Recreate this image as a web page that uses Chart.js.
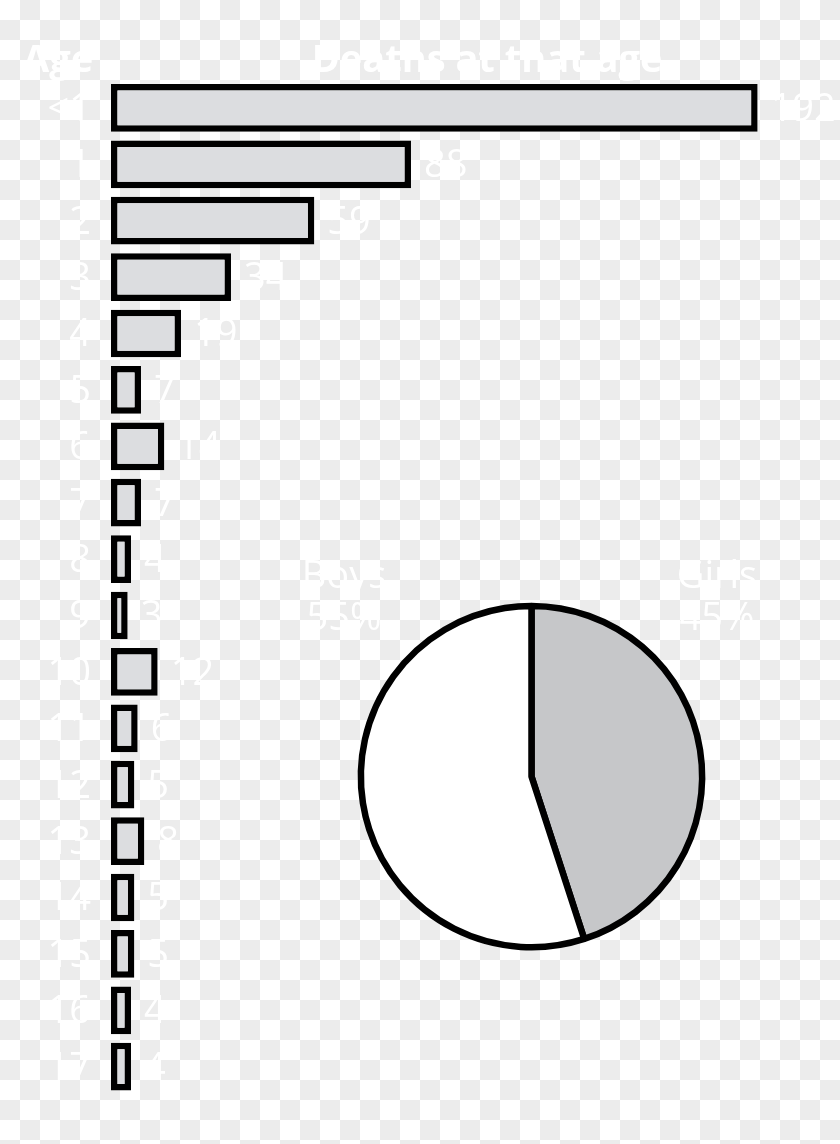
<!DOCTYPE html>
<html>
<head>
<meta charset="utf-8">
<script src="https://cdn.jsdelivr.net/npm/chart.js@4.4.0/dist/chart.umd.min.js"></script>
<style>
  html, body { margin: 0; padding: 0; }
  body {
    width: 840px;
    height: 1144px;
    overflow: hidden;
    background: repeating-conic-gradient(#ececec 0 25%, #fff 0 50%) 0 0 / 40px 40px;
  }
  .layer { position: absolute; left: 0; top: 0; width: 840px; height: 1144px; }
</style>
</head>
<body>
<div class="layer"><canvas id="bars"></canvas></div>
<div class="layer"><canvas id="pie"></canvas></div>
<script>
const ages = ['<1', '1', '2', '3', '4', '5', '6', '7', '8', '9', '10', '11', '12', '13', '14', '15', '16', '17']
const deaths = [192, 88, 59, 34, 19, 7, 14, 7, 4, 3, 12, 6, 5, 8, 5, 5, 4, 4]
const headers = ['Age', 'Deaths at that age']
const sexes = ['Girls', 'Boys']
const sexShare = [45, 55]

const numFont = '38px "Liberation Sans Narrow", "Open Sans", sans-serif'

// white labels, the way the original artwork has them
const barText = {
  id: 'barText',
  afterDatasetsDraw(chart) {
    const { ctx, scales: { x, y } } = chart
    ctx.save()
    ctx.fillStyle = '#fff'
    ctx.textBaseline = 'middle'
    ctx.font = numFont
    ages.forEach((a, i) => {
      const yy = y.getPixelForValue(i) + 2
      ctx.textAlign = 'right'
      ctx.fillText(a, 91, yy)
      ctx.textAlign = 'left'
      ctx.fillText(deaths[i], x.getPixelForValue(deaths[i]) + 13, yy)
    })
    ctx.font = 'bold 38px "Open Sans", sans-serif'
    ctx.textBaseline = 'alphabetic'
    ctx.textAlign = 'left'
    ctx.fillText(headers[0], 23, 72)
    ctx.textAlign = 'center'
    ctx.fillText(headers[1], 487, 72)
    ctx.restore()
  }
}

const pieText = {
  id: 'pieText',
  afterDatasetsDraw(chart) {
    const ctx = chart.ctx
    ctx.save()
    ctx.fillStyle = '#fff'
    ctx.font = numFont
    ctx.textAlign = 'center'
    ctx.textBaseline = 'middle'
    ctx.fillText(sexes[1], 344, 577)
    ctx.fillText(sexShare[1] + '%', 344, 619)
    ctx.fillText(sexes[0], 717, 577)
    ctx.fillText(sexShare[0] + '%', 717, 619)
    ctx.restore()
  }
}

new Chart(document.getElementById('bars'), {
  type: 'bar',
  data: {
    labels: ages,
    datasets: [{
      data: deaths,
      base: -2,
      backgroundColor: '#dcdde0',
      borderColor: '#000',
      borderWidth: 6.5,
      borderSkipped: false,
      barPercentage: 0.846,
      categoryPercentage: 1
    }]
  },
  options: {
    indexAxis: 'y',
    responsive: true,
    maintainAspectRatio: false,
    animation: false,
    layout: { padding: { left: 111, top: 79.7, right: 55.7, bottom: 49.1 } },
    scales: {
      x: { display: false, min: -2, max: 200 },
      y: { display: false }
    },
    plugins: { legend: { display: false }, tooltip: { enabled: false } }
  },
  plugins: [barText]
})

new Chart(document.getElementById('pie'), {
  type: 'pie',
  data: {
    labels: sexes,
    datasets: [{
      data: sexShare,
      backgroundColor: ['#c6c7c9', '#ffffff'],
      borderColor: '#000',
      borderWidth: 6.5
    }]
  },
  options: {
    responsive: true,
    maintainAspectRatio: false,
    animation: false,
    layout: { padding: { left: 357.5, top: 602.7, right: 134.5, bottom: 193.5 } },
    plugins: { legend: { display: false }, tooltip: { enabled: false } }
  },
  plugins: [pieText]
})
</script>
</body>
</html>
